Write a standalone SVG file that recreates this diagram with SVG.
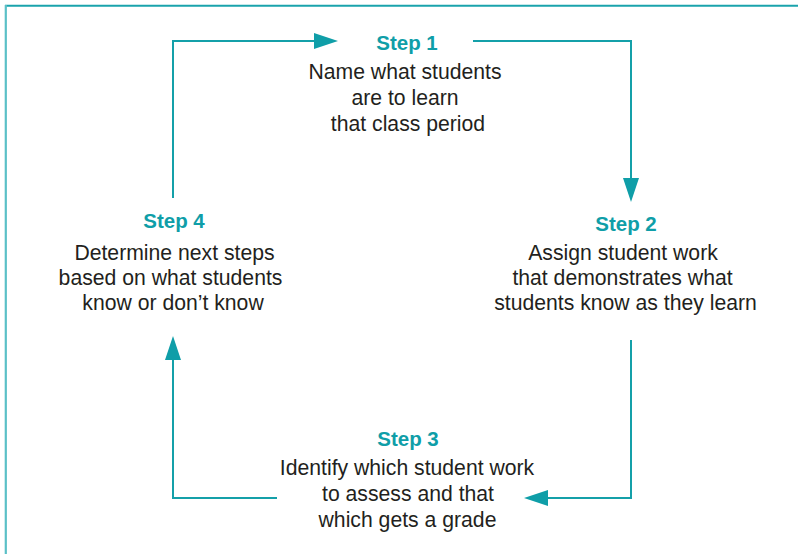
<svg xmlns="http://www.w3.org/2000/svg" width="798" height="554" viewBox="0 0 798 554">
  <style>
    .title { font-family: "Liberation Sans", Arial, sans-serif; font-weight: bold; font-size: 20.5px; fill: #0f9ea8; text-anchor: middle; }
    .body { font-family: "Liberation Sans", Arial, sans-serif; font-size: 21.2px; fill: #231f20; text-anchor: middle; }
    .flow { fill: none; stroke: #14a0a9; stroke-width: 2; }
    .head { fill: #0f9ea8; }
  </style>
  <rect width="798" height="554" fill="#ffffff"/>
  <!-- outer frame -->
  <line x1="5" y1="5.7" x2="798" y2="5.7" stroke="#1aa3ac" stroke-width="2"/>
  <line x1="5.8" y1="5" x2="5.8" y2="554" stroke="#5bc0c7" stroke-width="2.2"/>

  <g id="connectors">
    <!-- Step 4 to Step 1 -->
    <polyline class="flow" points="173,198 173,41 316,41"/>
    <polygon class="head" points="338,41 314,33 314,49"/>
    <!-- Step 1 to Step 2 -->
    <polyline class="flow" points="473,41 631,41 631,180"/>
    <polygon class="head" points="631,202 623,178 639,178"/>
    <!-- Step 2 to Step 3 -->
    <polyline class="flow" points="631,340 631,498 546,498"/>
    <polygon class="head" points="524,498 548,490 548,506"/>
    <!-- Step 3 to Step 4 -->
    <polyline class="flow" points="277,498 173,498 173,358"/>
    <polygon class="head" points="173,336 165,360 181,360"/>
  </g>

  <g id="step1">
    <text class="title" x="407" y="50">Step 1</text>
    <text class="body" x="405" y="79">Name what students</text>
    <text class="body" x="405" y="105">are to learn</text>
    <text class="body" x="408" y="131">that class period</text>
  </g>

  <g id="step2">
    <text class="title" x="626" y="231">Step 2</text>
    <text class="body" x="623" y="260">Assign student work</text>
    <text class="body" x="622.5" y="285">that demonstrates what</text>
    <text class="body" x="625.5" y="310">students know as they learn</text>
  </g>

  <g id="step3">
    <text class="title" x="408" y="446">Step 3</text>
    <text class="body" x="407" y="475">Identify which student work</text>
    <text class="body" x="408" y="501">to assess and that</text>
    <text class="body" x="407.5" y="527">which gets a grade</text>
  </g>

  <g id="step4">
    <text class="title" x="174" y="228">Step 4</text>
    <text class="body" x="174.5" y="260">Determine next steps</text>
    <text class="body" x="170.5" y="285">based on what students</text>
    <text class="body" x="173" y="310">know or don’t know</text>
  </g>
</svg>
